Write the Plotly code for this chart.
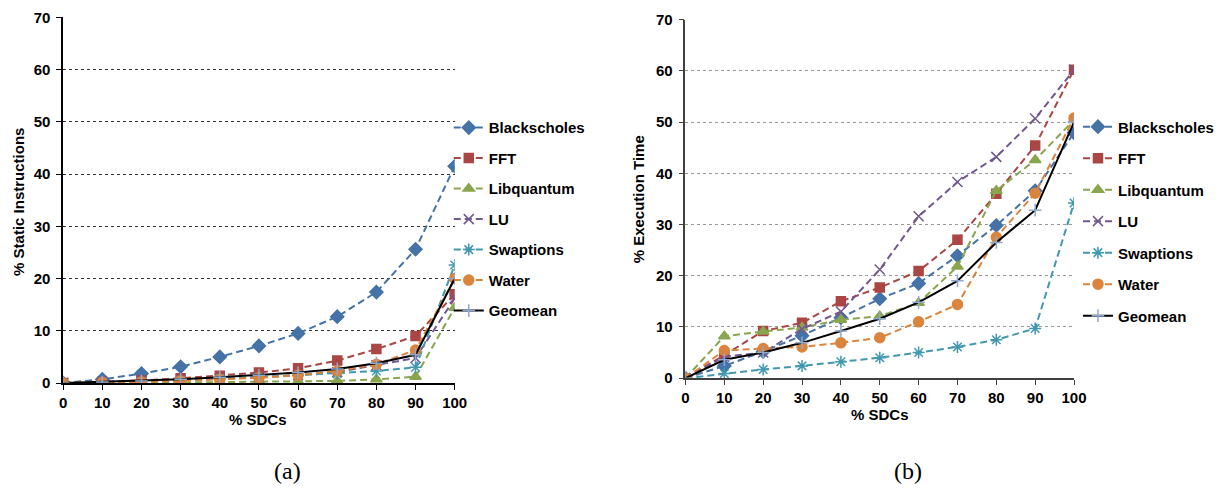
import plotly.graph_objects as go

# % of SDCs covered (x axis of both panels)
sdc_pct = [0, 10, 20, 30, 40, 50, 60, 70, 80, 90, 100]
x_ticks = [0, 10, 20, 30, 40, 50, 60, 70, 80, 90, 100]
y_ticks = [0, 10, 20, 30, 40, 50, 60, 70]

benchmarks = ["Blackscholes", "FFT", "Libquantum", "LU", "Swaptions", "Water", "Geomean"]

# (a) % static instructions protected
static_blackscholes = [0, 0.7, 1.8, 3.1, 5.0, 7.1, 9.5, 12.7, 17.4, 25.6, 41.5]
static_fft = [0, 0.2, 0.5, 0.9, 1.4, 2.0, 2.8, 4.3, 6.5, 9.0, 17.0]
static_libquantum = [0, 0.1, 0.1, 0.1, 0.2, 0.3, 0.3, 0.4, 0.7, 1.2, 14.4]
static_lu = [0, 0.2, 0.3, 0.5, 0.8, 1.1, 1.5, 2.1, 3.4, 4.8, 16.2]
static_swaptions = [0, 0.2, 0.3, 0.5, 0.8, 1.1, 1.5, 1.8, 2.3, 3.0, 22.6]
static_water = [0, 0.1, 0.2, 0.4, 0.7, 1.0, 1.5, 2.3, 3.6, 6.3, 20.0]
static_geomean = [0, 0.2, 0.4, 0.7, 1.1, 1.5, 2.0, 2.7, 3.8, 5.4, 20.0]

# (b) % execution time overhead
exec_blackscholes = [0, 2.4, 5.2, 8.3, 11.8, 15.5, 18.5, 23.9, 29.8, 36.6, 47.9]
exec_fft = [0, 4.5, 9.2, 10.8, 15.0, 17.7, 20.9, 27.0, 36.0, 45.4, 60.2]
exec_libquantum = [0, 8.2, 9.1, 9.9, 11.4, 12.1, 14.7, 21.8, 36.6, 42.6, 50.4]
exec_lu = [0, 4.2, 5.0, 9.6, 13.0, 21.2, 31.6, 38.3, 43.2, 50.7, 60.2]
exec_swaptions = [0, 0.9, 1.7, 2.4, 3.2, 4.0, 5.0, 6.1, 7.5, 9.7, 34.2]
exec_water = [0, 5.4, 5.8, 6.1, 6.9, 7.9, 11.0, 14.4, 27.5, 36.1, 50.8]
exec_geomean = [0, 3.6, 5.0, 6.9, 9.2, 11.6, 14.8, 19.0, 26.5, 32.8, 50.0]

static_series = [static_blackscholes, static_fft, static_libquantum, static_lu,
                 static_swaptions, static_water, static_geomean]
exec_series = [exec_blackscholes, exec_fft, exec_libquantum, exec_lu,
               exec_swaptions, exec_water, exec_geomean]

styles = {
    "Blackscholes": dict(color="#4572A7", symbol="diamond", size=10, mline="#4572A7"),
    "FFT": dict(color="#AA4643", symbol="square", size=9, mline="#AA4643"),
    "Libquantum": dict(color="#89A54E", symbol="triangle-up", size=10, mline="#89A54E"),
    "LU": dict(color="#71588F", symbol="x-thin-open", size=10, mline="#71588F"),
    "Swaptions": dict(color="#4198AF", symbol="asterisk-open", size=10, mline="#4198AF"),
    "Water": dict(color="#DB843D", symbol="circle", size=10, mline="#DB843D"),
    "Geomean": dict(color="#000000", symbol="cross-thin-open", size=9, mline="#8EA9D0"),
}

W, H = 1232, 495
bold = dict(family="Liberation Sans, Arial, sans-serif", size=15, color="#000000", weight="bold")

fig = go.Figure()

def add_panel(series, xa, ya, legend, tag):
    for name, vals in zip(benchmarks, series):
        st = styles[name]
        solid = name == "Geomean"
        fig.add_trace(go.Scatter(
            x=sdc_pct, y=vals, name=name, mode="lines+markers",
            xaxis=xa, yaxis=ya, legend=legend, legendgroup=tag + name,
            line=dict(color=st["color"], width=2,
                      dash="solid" if solid else "7px,4px"),
            marker=dict(symbol=st["symbol"], size=st["size"], color=st["mline"],
                        line=dict(color=st["mline"], width=1.5)),
        ))

add_panel(static_series, "x", "y", "legend", "a")
add_panel(exec_series, "x2", "y2", "legend2", "b")

def xaxis_cfg(domain, line_color):
    return dict(domain=domain, range=[0, 100], tickvals=x_ticks, showgrid=False,
                zeroline=False, showline=True, linecolor=line_color, linewidth=1.5,
                ticks="outside", ticklen=5, tickcolor=line_color, tickfont=bold)

def yaxis_cfg(domain, grid_color, line_color):
    return dict(domain=domain, range=[0, 70], tickvals=y_ticks, showgrid=True,
                gridcolor=grid_color, griddash="dot", gridwidth=1,
                zeroline=False, showline=True, linecolor=line_color, linewidth=1.5,
                ticks="outside", ticklen=5, tickcolor=line_color, tickfont=bold,
                ticklabelstandoff=3)

xa1 = xaxis_cfg([60 / W, 457 / W], "#000000"); xa1["anchor"] = "y"
xa2 = xaxis_cfg([691 / W, 1085 / W], "#404040"); xa2["anchor"] = "y2"
ya1 = yaxis_cfg([1 - 387.3 / H, 1 - 8.7 / H], "#333333", "#000000"); ya1["anchor"] = "x"
ya2 = yaxis_cfg([1 - 382.3 / H, 1 - 11 / H], "#999999", "#404040"); ya2["anchor"] = "x2"

legend_font = dict(family="Liberation Sans, Arial, sans-serif", size=15, color="#000000", weight="bold")
fig.update_layout(
    width=W, height=H,
    margin=dict(l=0, r=0, t=0, b=0),
    paper_bgcolor="white", plot_bgcolor="white",
    xaxis=xa1, yaxis=ya1, xaxis2=xa2, yaxis2=ya2,
    legend=dict(x=451 / W, y=1 - 106 / H, xanchor="left", yanchor="top",
                font=legend_font, bgcolor="rgba(0,0,0,0)", tracegroupgap=8,
                itemwidth=30),
    legend2=dict(x=1089 / W, y=1 - 105 / H, xanchor="left", yanchor="top",
                 font=legend_font, bgcolor="rgba(0,0,0,0)", tracegroupgap=9,
                 itemwidth=30),
)

title_font = dict(family="Liberation Sans, Arial, sans-serif", size=15, color="#000000", weight="bold")
caption_font = dict(family="Liberation Serif, DejaVu Serif, serif", size=24, color="#000000")

annotations = [
    dict(text="% Static Instructions", x=14 / W, y=1 - 200 / H, textangle=-90, font=title_font),
    dict(text="% SDCs", x=258 / W, y=1 - 425 / H, font=title_font),
    dict(text="% Execution Time", x=643 / W, y=1 - 197 / H, textangle=-90, font=title_font),
    dict(text="% SDCs", x=888 / W, y=1 - 420 / H, font=title_font),
    dict(text="(a)", x=287 / W, y=1 - 478 / H, font=caption_font),
    dict(text="(b)", x=917 / W, y=1 - 478 / H, font=caption_font),
]
for a in annotations:
    fig.add_annotation(xref="paper", yref="paper", showarrow=False,
                       xanchor="center", yanchor="middle", **a)

fig.write_html("out.html")
